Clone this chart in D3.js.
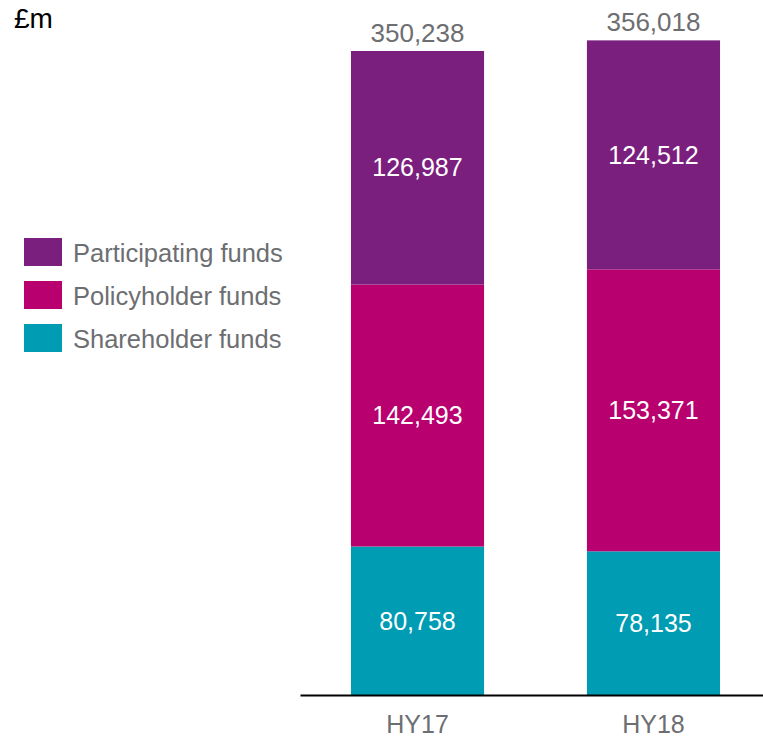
<!DOCTYPE html>
<html>
<head>
<meta charset="utf-8">
<script src="https://cdn.jsdelivr.net/npm/d3@7"></script>
<style>
  body { margin: 0; background: #fff; }
  text { font-family: "Liberation Sans", Arial, sans-serif; }
</style>
</head>
<body>
<div id="chart"></div>
<script>
// chart data
var periods = ["HY17", "HY18"];
var seriesNames = ["Shareholder funds", "Policyholder funds", "Participating funds"];
var shareholder = [80758, 78135];
var policyholder = [142493, 153371];
var participating = [126987, 124512];
var totals = [350238, 356018];
var colors = ["#009cb3", "#b8006f", "#7b1f7e"];

var svgWidth = 763, svgHeight = 741;
var baseY = 695;

var svg = d3.select("#chart")
  .append("svg")
  .attr("width", svgWidth)
  .attr("height", svgHeight);

var data = periods.map(function(p, i) {
  return { period: p, "Shareholder funds": shareholder[i], "Policyholder funds": policyholder[i], "Participating funds": participating[i], total: totals[i] };
});

var stack = d3.stack().keys(seriesNames);
var layers = stack(data);

var x = d3.scaleBand()
  .domain(periods)
  .range([300, 771])
  .paddingInner(0.436)
  .paddingOuter(0.216);

var y = d3.scaleLinear()
  .domain([0, 350238])
  .range([baseY, 51]);

var color = d3.scaleOrdinal().domain(seriesNames).range(colors);

var groups = svg.selectAll("g.layer")
  .data(layers)
  .enter()
  .append("g")
  .attr("class", "layer")
  .attr("fill", d => color(d.key));

groups.selectAll("rect")
  .data(d => d)
  .enter()
  .append("rect")
  .attr("x", d => x(d.data.period))
  .attr("y", d => y(d[1]))
  .attr("width", x.bandwidth())
  .attr("height", d => y(d[0]) - y(d[1]));

// segment labels
groups.selectAll("text")
  .data(d => d)
  .enter()
  .append("text")
  .attr("x", d => x(d.data.period) + x.bandwidth() / 2)
  .attr("y", d => (y(d[0]) + y(d[1])) / 2)
  .attr("dy", "0.35em")
  .attr("text-anchor", "middle")
  .attr("fill", "#fff")
  .style("font-size", "25px")
  .text(d => d3.format(",")(d[1] - d[0]));

// totals
svg.selectAll("text.total")
  .data(data)
  .enter()
  .append("text")
  .attr("class", "total")
  .attr("x", d => x(d.period) + x.bandwidth() / 2)
  .attr("y", d => y(d.total) - 9)
  .attr("text-anchor", "middle")
  .attr("fill", "#6d6e71")
  .style("font-size", "26px")
  .text(d => d3.format(",")(d.total));

// x axis
var xAxis = svg.append("g")
  .attr("transform", `translate(0, ${baseY})`)
  .call(d3.axisBottom(x).tickSize(0).tickPadding(20));
xAxis.select(".domain").attr("stroke", "#000").attr("stroke-width", 2);
xAxis.selectAll("text")
  .attr("fill", "#6d6e71")
  .style("font-size", "25px")
  .style("font-family", "'Liberation Sans', Arial, sans-serif");

// unit label
svg.append("text")
  .attr("x", 14)
  .attr("y", 28)
  .attr("fill", "#000")
  .style("font-size", "28px")
  .text("£m");

// legend
var legendNames = ["Participating funds", "Policyholder funds", "Shareholder funds"];
var legend = svg.selectAll("g.legend")
  .data(legendNames)
  .enter()
  .append("g")
  .attr("class", "legend")
  .attr("transform", (d, i) => `translate(24, ${238 + i * 43})`);
legend.append("rect")
  .attr("width", 38)
  .attr("height", 28)
  .attr("fill", d => color(d));
legend.append("text")
  .attr("x", 49)
  .attr("y", 15)
  .attr("dy", "0.35em")
  .attr("fill", "#6d6e71")
  .style("font-size", "25.5px")
  .text(d => d);
</script>
</body>
</html>
